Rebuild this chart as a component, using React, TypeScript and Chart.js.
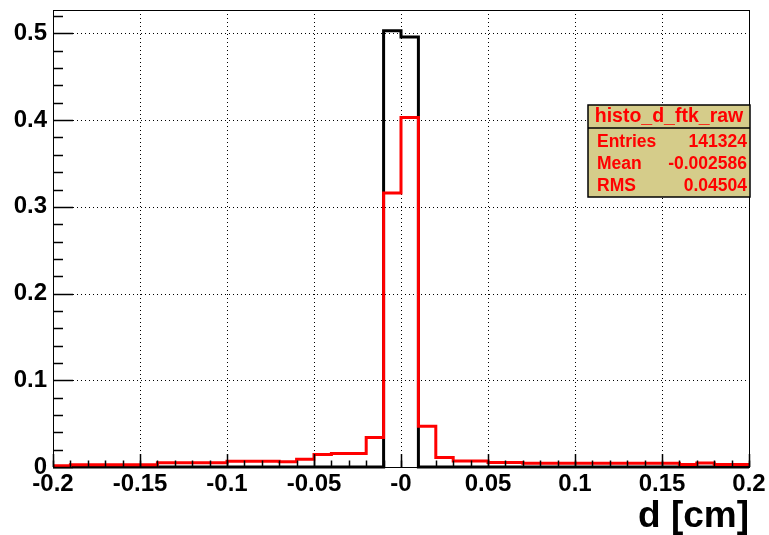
import React, { useEffect, useRef } from 'react';
import { Chart, registerables } from 'chart.js';

Chart.register(...registerables);

// Histogram bins (lower edges), width 0.01 cm
const binLowEdges = [
  -0.2, -0.19, -0.18, -0.17, -0.16, -0.15, -0.14, -0.13, -0.12, -0.11,
  -0.1, -0.09, -0.08, -0.07, -0.06, -0.05, -0.04, -0.03, -0.02, -0.01,
  0.0, 0.01, 0.02, 0.03, 0.04, 0.05, 0.06, 0.07, 0.08, 0.09,
  0.1, 0.11, 0.12, 0.13, 0.14, 0.15, 0.16, 0.17, 0.18, 0.19,
];
const binWidth = 0.01;

// red histogram: histo_d_ftk_raw (normalised)
const rawValues = [
  0.0015, 0.0025, 0.0025, 0.0025, 0.0025, 0.0025, 0.005, 0.005, 0.005, 0.005,
  0.0065, 0.0065, 0.0065, 0.006, 0.009, 0.0145, 0.0155, 0.0155, 0.034, 0.316,
  0.403, 0.047, 0.011, 0.0068, 0.0068, 0.0052, 0.0052, 0.0042, 0.0042, 0.0042,
  0.0042, 0.0042, 0.0042, 0.0042, 0.0042, 0.0042, 0.0028, 0.0045, 0.0028, 0.0028,
];

// black histogram (reference, normalised)
const refValues = [
  0, 0, 0, 0, 0, 0, 0, 0, 0, 0,
  0, 0, 0, 0, 0, 0, 0, 0, 0, 0.503,
  0.496, 0, 0, 0, 0, 0, 0, 0, 0, 0,
  0, 0, 0, 0, 0, 0, 0, 0, 0, 0,
];

const xTickValues = [-0.2, -0.15, -0.1, -0.05, 0, 0.05, 0.1, 0.15, 0.2];
const xTickLabels = ['-0.2', '-0.15', '-0.1', '-0.05', '-0', '0.05', '0.1', '0.15', '0.2'];
const yTickValues = [0, 0.1, 0.2, 0.3, 0.4, 0.5];
const yTickLabels = ['0', '0.1', '0.2', '0.3', '0.4', '0.5'];
const yMinorTicks = [0.02, 0.04, 0.06, 0.08, 0.12, 0.14, 0.16, 0.18, 0.22, 0.24, 0.26, 0.28,
  0.32, 0.34, 0.36, 0.38, 0.42, 0.44, 0.46, 0.48, 0.52];

const statsTitle = 'histo_d_ftk_raw';
const statsRows: [string, string][] = [
  ['Entries', '141324'],
  ['Mean', '-0.002586'],
  ['RMS', '0.04504'],
];

const FONT = '"Liberation Sans", Arial, Helvetica, sans-serif';

function histPoints(values: number[]) {
  const pts: { x: number; y: number }[] = [];
  values.forEach((v, i) => {
    pts.push({ x: binLowEdges[i], y: v });
    pts.push({ x: binLowEdges[i] + binWidth, y: v });
  });
  return pts;
}

const framePlugin = {
  id: 'rootFrame',
  beforeDatasetsDraw(chart: any) {
    const { ctx, chartArea: a, scales } = chart;
    const xs = scales.x, ys = scales.y;
    ctx.save();
    ctx.strokeStyle = '#000';
    ctx.lineWidth = 1;
    ctx.setLineDash([1, 3]);
    xTickValues.forEach((v) => {
      if (v <= -0.2 || v >= 0.2) return;
      const px = Math.round(xs.getPixelForValue(v)) + 0.5;
      ctx.beginPath();
      ctx.moveTo(px, a.top);
      ctx.lineTo(px, a.bottom);
      ctx.stroke();
    });
    yTickValues.forEach((v) => {
      if (v <= 0) return;
      const py = Math.round(ys.getPixelForValue(v)) + 0.5;
      ctx.beginPath();
      ctx.moveTo(a.left, py);
      ctx.lineTo(a.right, py);
      ctx.stroke();
    });
    ctx.restore();
  },
  afterDatasetsDraw(chart: any) {
    const { ctx, chartArea: a, scales } = chart;
    const xs = scales.x, ys = scales.y;
    ctx.save();
    ctx.strokeStyle = '#000';
    ctx.lineWidth = 1;
    ctx.setLineDash([]);
    ctx.strokeRect(Math.round(a.left) + 0.5, Math.round(a.top) + 0.5,
      Math.round(a.right - a.left), Math.round(a.bottom - a.top));
    ctx.lineWidth = 1.5;
    const xMinor = binLowEdges.concat([0.2]);
    xMinor.forEach((v) => {
      const px = Math.round(xs.getPixelForValue(v)) + 0.5;
      ctx.beginPath();
      ctx.moveTo(px, a.bottom);
      ctx.lineTo(px, a.bottom - 6.5);
      ctx.stroke();
    });
    xTickValues.forEach((v) => {
      const px = Math.round(xs.getPixelForValue(v)) + 0.5;
      ctx.beginPath();
      ctx.moveTo(px, a.bottom);
      ctx.lineTo(px, a.bottom - 13);
      ctx.stroke();
    });
    yMinorTicks.forEach((v) => {
      const py = Math.round(ys.getPixelForValue(v)) + 0.5;
      ctx.beginPath();
      ctx.moveTo(a.left, py);
      ctx.lineTo(a.left + 10, py);
      ctx.stroke();
    });
    yTickValues.forEach((v) => {
      const py = Math.round(ys.getPixelForValue(v)) + 0.5;
      ctx.beginPath();
      ctx.moveTo(a.left, py);
      ctx.lineTo(a.left + 20, py);
      ctx.stroke();
    });
    ctx.restore();
  },
  afterDraw(chart: any) {
    const { ctx } = chart;
    const bx = 588, by = 105, bw = 162, bh = 92, titleH = 23;
    ctx.save();
    ctx.fillStyle = 'rgb(213, 204, 138)';
    ctx.fillRect(bx, by, bw, bh);
    ctx.strokeStyle = '#000';
    ctx.lineWidth = 1.5;
    ctx.strokeRect(bx, by, bw, bh);
    ctx.beginPath();
    ctx.moveTo(bx, by + titleH);
    ctx.lineTo(bx + bw, by + titleH);
    ctx.stroke();
    ctx.fillStyle = '#ff0000';
    ctx.textBaseline = 'middle';
    ctx.font = `bold 19.5px ${FONT}`;
    ctx.textAlign = 'center';
    ctx.fillText(statsTitle, bx + bw / 2, by + 12);
    ctx.font = `bold 17.5px ${FONT}`;
    const rowY = [142, 164, 186];
    statsRows.forEach(([k, v], i) => {
      ctx.textAlign = 'left';
      ctx.fillText(k, bx + 9, rowY[i]);
      ctx.textAlign = 'right';
      ctx.fillText(v, bx + bw - 3, rowY[i]);
    });
    ctx.restore();
  },
};

export default function App() {
  const ref = useRef<HTMLCanvasElement | null>(null);
  useEffect(() => {
    if (!ref.current) return;
    const chart = new Chart(ref.current, {
      type: 'line',
      data: {
        datasets: [
          {
            label: 'reference',
            data: histPoints(refValues),
            borderColor: '#000000',
            borderWidth: 3,
            pointRadius: 0,
            fill: false,
            tension: 0,
            clip: 4,
            order: 2,
          },
          {
            label: statsTitle,
            data: histPoints(rawValues),
            borderColor: '#ff0000',
            borderWidth: 3,
            pointRadius: 0,
            fill: false,
            tension: 0,
            clip: 4,
            order: 1,
          },
        ],
      },
      options: {
        animation: false,
        responsive: false,
        devicePixelRatio: 1,
        parsing: false as any,
        layout: { padding: { top: 10, right: 20, left: 0, bottom: 0 } },
        plugins: { legend: { display: false }, tooltip: { enabled: false } },
        scales: {
          x: {
            type: 'linear',
            min: -0.2,
            max: 0.2,
            grid: { display: false, drawTicks: false },
            border: { display: false },
            afterBuildTicks: (s: any) => {
              s.ticks = xTickValues.map((v) => ({ value: v }));
            },
            afterFit: (s: any) => {
              s.height = 68;
              s.paddingLeft = 0;
              s.paddingRight = 0;
            },
            ticks: {
              autoSkip: false,
              maxRotation: 0,
              padding: 3,
              color: '#000',
              font: { family: FONT, size: 24, weight: 'bold' },
              callback: (_v: any, i: number) => xTickLabels[i],
            },
            title: {
              display: true,
              text: 'd [cm]',
              align: 'end',
              color: '#000',
              padding: 0,
              font: { family: FONT, size: 37, weight: 'bold', lineHeight: 1.0 },
            },
          },
          y: {
            type: 'linear',
            min: 0,
            max: 0.527,
            grid: { display: false, drawTicks: false },
            border: { display: false },
            afterBuildTicks: (s: any) => {
              s.ticks = yTickValues.map((v) => ({ value: v }));
            },
            afterFit: (s: any) => {
              s.width = 53;
              s.paddingTop = 0;
              s.paddingBottom = 0;
            },
            ticks: {
              autoSkip: false,
              padding: 6,
              color: '#000',
              font: { family: FONT, size: 24, weight: 'bold' },
              callback: (_v: any, i: number) => yTickLabels[i],
            },
          },
        },
      },
      plugins: [framePlugin],
    } as any);
    return () => chart.destroy();
  }, []);
  return (
    <div style={{ position: 'fixed', left: 0, top: 0, width: 769, height: 535, background: '#fff' }}>
      <canvas ref={ref} width={769} height={535} style={{ display: 'block' }} />
    </div>
  );
}
